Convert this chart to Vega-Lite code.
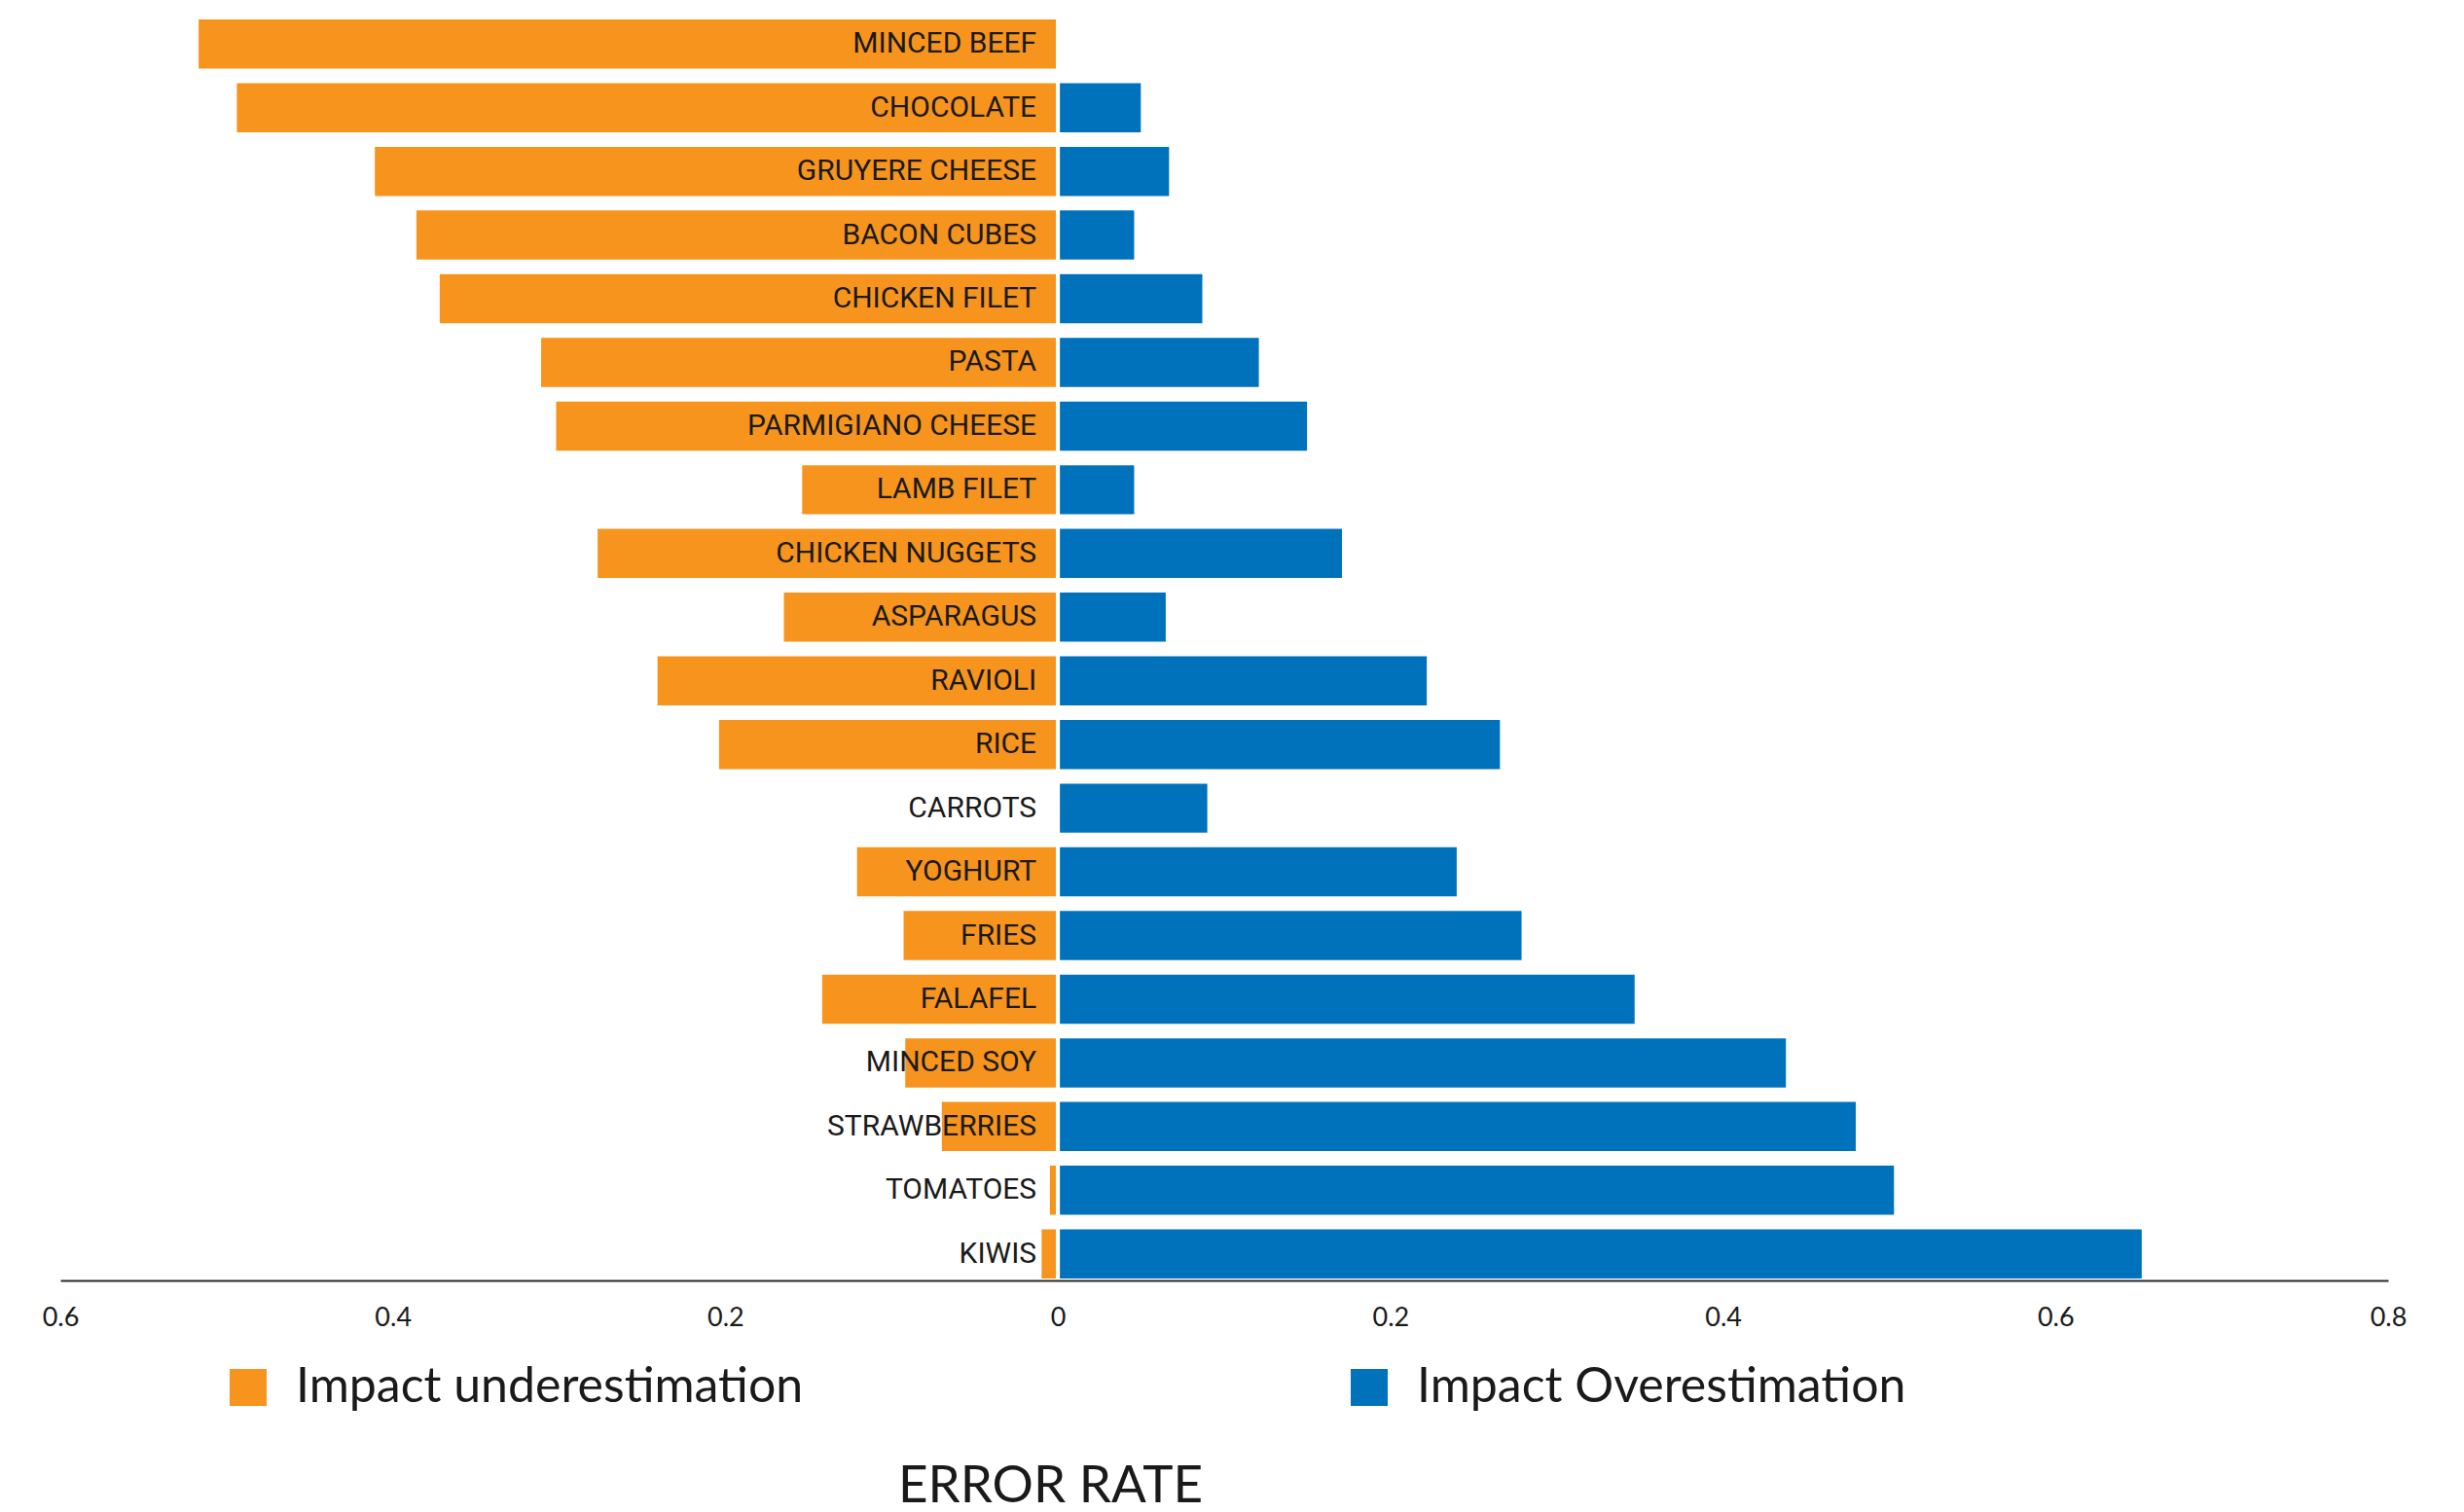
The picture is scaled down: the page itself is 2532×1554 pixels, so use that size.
{
  "$schema": "https://vega.github.io/schema/vega-lite/v6.json",
  "width": 2392,
  "height": 1298,
  "autosize": {"type": "none"},
  "padding": {"left": 62, "top": 18, "right": 78, "bottom": 238},
  "background": "white",
  "config": {"view": {"stroke": null}, "font": "Lato"},
  "data": {
    "values": [
      {"food": "MINCED BEEF", "type": "Impact underestimation", "value": -0.518},
      {"food": "MINCED BEEF", "type": "Impact Overestimation", "value": 0},
      {"food": "CHOCOLATE", "type": "Impact underestimation", "value": -0.495},
      {"food": "CHOCOLATE", "type": "Impact Overestimation", "value": 0.051},
      {"food": "GRUYERE CHEESE", "type": "Impact underestimation", "value": -0.412},
      {"food": "GRUYERE CHEESE", "type": "Impact Overestimation", "value": 0.068},
      {"food": "BACON CUBES", "type": "Impact underestimation", "value": -0.387},
      {"food": "BACON CUBES", "type": "Impact Overestimation", "value": 0.047},
      {"food": "CHICKEN FILET", "type": "Impact underestimation", "value": -0.373},
      {"food": "CHICKEN FILET", "type": "Impact Overestimation", "value": 0.088},
      {"food": "PASTA", "type": "Impact underestimation", "value": -0.312},
      {"food": "PASTA", "type": "Impact Overestimation", "value": 0.122},
      {"food": "PARMIGIANO CHEESE", "type": "Impact underestimation", "value": -0.303},
      {"food": "PARMIGIANO CHEESE", "type": "Impact Overestimation", "value": 0.151},
      {"food": "LAMB FILET", "type": "Impact underestimation", "value": -0.155},
      {"food": "LAMB FILET", "type": "Impact Overestimation", "value": 0.047},
      {"food": "CHICKEN NUGGETS", "type": "Impact underestimation", "value": -0.278},
      {"food": "CHICKEN NUGGETS", "type": "Impact Overestimation", "value": 0.172},
      {"food": "ASPARAGUS", "type": "Impact underestimation", "value": -0.166},
      {"food": "ASPARAGUS", "type": "Impact Overestimation", "value": 0.066},
      {"food": "RAVIOLI", "type": "Impact underestimation", "value": -0.242},
      {"food": "RAVIOLI", "type": "Impact Overestimation", "value": 0.223},
      {"food": "RICE", "type": "Impact underestimation", "value": -0.205},
      {"food": "RICE", "type": "Impact Overestimation", "value": 0.267},
      {"food": "CARROTS", "type": "Impact underestimation", "value": 0},
      {"food": "CARROTS", "type": "Impact Overestimation", "value": 0.091},
      {"food": "YOGHURT", "type": "Impact underestimation", "value": -0.122},
      {"food": "YOGHURT", "type": "Impact Overestimation", "value": 0.241},
      {"food": "FRIES", "type": "Impact underestimation", "value": -0.094},
      {"food": "FRIES", "type": "Impact Overestimation", "value": 0.28},
      {"food": "FALAFEL", "type": "Impact underestimation", "value": -0.143},
      {"food": "FALAFEL", "type": "Impact Overestimation", "value": 0.348},
      {"food": "MINCED SOY", "type": "Impact underestimation", "value": -0.093},
      {"food": "MINCED SOY", "type": "Impact Overestimation", "value": 0.439},
      {"food": "STRAWBERRIES", "type": "Impact underestimation", "value": -0.071},
      {"food": "STRAWBERRIES", "type": "Impact Overestimation", "value": 0.481},
      {"food": "TOMATOES", "type": "Impact underestimation", "value": -0.006},
      {"food": "TOMATOES", "type": "Impact Overestimation", "value": 0.504},
      {"food": "KIWIS", "type": "Impact underestimation", "value": -0.011},
      {"food": "KIWIS", "type": "Impact Overestimation", "value": 0.653}
    ]
  },
  "encoding": {
    "y": {
      "field": "food",
      "type": "nominal",
      "sort": null,
      "axis": null,
      "scale": {"paddingInner": 0.1676, "paddingOuter": 0}
    }
  },
  "layer": [
    {
      "mark": {"type": "bar", "stroke": "white", "strokeWidth": 4},
      "encoding": {
        "x": {
          "field": "value",
          "type": "quantitative",
          "stack": null,
          "scale": {"domain": [-0.6, 0.8], "nice": false, "zero": true},
          "axis": {
            "title": "ERROR RATE",
            "values": [-0.6, -0.4, -0.2, 0, 0.2, 0.4, 0.6, 0.8],
            "labelExpr": "format(abs(datum.value), '~g')",
            "grid": false,
            "ticks": false,
            "tickSize": 0,
            "domainColor": "#2b2b2b",
            "domainWidth": 2,
            "labelFont": "Lato",
            "labelFontSize": 27,
            "labelColor": "#1a1a1a",
            "labelPadding": 25,
            "labelFlush": false,
            "labelOverlap": false,
            "titleFont": "Lato",
            "titleFontSize": 53,
            "titleFontWeight": "normal",
            "titleColor": "#1a1a1a",
            "titleAlign": "center",
            "titleAnchor": null,
            "titleBaseline": "alphabetic",
            "titleX": 1017,
            "titleY": 227,
            "zindex": 1
          }
        },
        "color": {
          "field": "type",
          "type": "nominal",
          "scale": {
            "domain": ["Impact underestimation", "Impact Overestimation"],
            "range": ["#F7941D", "#0072BB"]
          },
          "legend": {
            "title": null,
            "orient": "none",
            "legendX": 168,
            "legendY": 1383,
            "direction": "horizontal",
            "columns": 2,
            "columnPadding": 556,
            "padding": 0,
            "symbolType": "square",
            "symbolSize": 1444,
            "symbolStrokeWidth": 0,
            "symbolOpacity": 1,
            "labelFont": "Lato",
            "labelFontSize": 50,
            "labelColor": "#1a1a1a",
            "labelOffset": 24,
            "labelLimit": 1000
          }
        }
      }
    },
    {
      "transform": [{"filter": "datum.type === 'Impact underestimation'"}],
      "mark": {
        "type": "text",
        "align": "right",
        "baseline": "middle",
        "dx": -22,
        "font": "Roboto",
        "fontSize": 30,
        "color": "#1a1a1a"
      },
      "encoding": {
        "x": {"datum": 0, "type": "quantitative"},
        "text": {"field": "food", "type": "nominal"}
      }
    }
  ]
}
